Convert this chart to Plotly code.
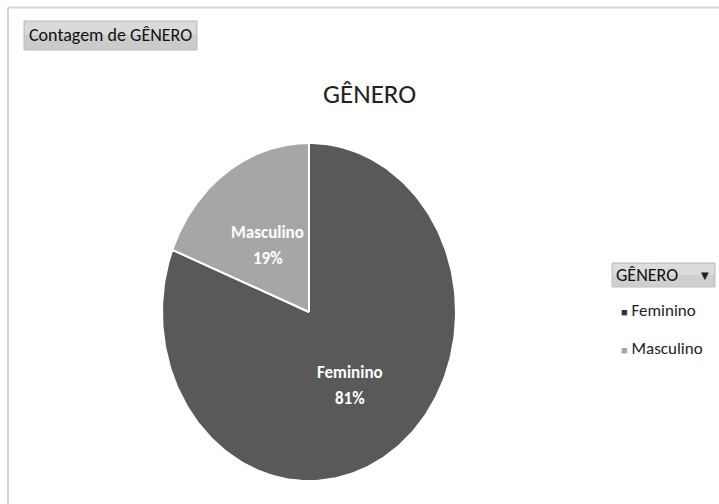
import numpy as np
import plotly.graph_objects as go

# Data
categories = ["Feminino", "Masculino"]
values = [81, 19]
colors = ["#595959", "#a6a6a6"]
legend_marker_colors = ["#333333", "#a6a6a6"]
title_text = "GÊNERO"
field_button = "Contagem de GÊNERO"
legend_title = "GÊNERO"

W, H = 719, 504
FONT = "Carlito, 'Liberation Sans Narrow', 'Open Sans', sans-serif"


def px(x):
    return x / W


def py(y):
    return 1 - y / H


def paper_text(x, y, text, size, color="#111111", xanchor="center",
               family=FONT):
    return dict(x=px(x), y=py(y), xref="paper", yref="paper",
                xanchor=xanchor, yanchor="middle", text=text,
                showarrow=False, font=dict(family=family, size=size,
                                           color=color))


total = float(sum(values))
fig = go.Figure()

# Pie slices drawn as filled wedges on a unit circle; the axis domains
# stretch the circle into the ellipse of the chart area.
start = 0.0
ann = []
for cat, val, col in zip(categories, values, colors):
    frac = val / total
    theta = np.linspace(start, start + frac, 240) * 2 * np.pi
    xs = np.concatenate([[0], np.sin(theta), [0]])
    ys = np.concatenate([[0], np.cos(theta), [0]])
    fig.add_trace(go.Scatter(
        x=xs, y=ys, mode="lines", fill="toself", fillcolor=col,
        line=dict(color="white", width=2), name=cat, showlegend=False,
        hoverinfo="skip"))
    mid = (start + frac / 2) * 2 * np.pi
    r = 0.5
    lx, ly = r * np.sin(mid), r * np.cos(mid) - 0.02
    for txt, shift in ((f"<b>{cat}</b>", 13), (f"<b>{round(frac * 100)}%</b>", -13)):
        ann.append(dict(
            x=lx, y=ly, xref="x", yref="y", xanchor="center",
            yanchor="middle", yshift=shift, text=txt, showarrow=False,
            font=dict(family=FONT, size=17, color="white")))
    start += frac

shapes = []

# Chart frame (top and left edges)
shapes.append(dict(type="line", xref="paper", yref="paper",
                   x0=px(8), x1=px(719), y0=py(7.5), y1=py(7.5),
                   line=dict(color="#d4d4d4", width=2)))
shapes.append(dict(type="line", xref="paper", yref="paper",
                   x0=px(8), x1=px(8), y0=py(7.5), y1=py(504),
                   line=dict(color="#d4d4d4", width=2)))

# Field button
shapes.append(dict(type="rect", xref="paper", yref="paper",
                   x0=px(24), x1=px(197), y0=py(50), y1=py(21),
                   fillcolor="#cbcbcb", line=dict(color="#bdbdbd", width=1),
                   layer="below"))
shapes.append(dict(type="rect", xref="paper", yref="paper",
                   x0=px(25), x1=px(196), y0=py(35), y1=py(22),
                   fillcolor="#dadada", line=dict(width=0), layer="below"))
ann.append(paper_text(110.5, 35.5, field_button, 18))

# Chart title
ann.append(paper_text(369, 93, title_text, 27, color="#222222"))

# Legend header
shapes.append(dict(type="rect", xref="paper", yref="paper",
                   x0=px(612), x1=px(715), y0=py(287), y1=py(263),
                   fillcolor="#cfcfcf", line=dict(color="#c0c0c0", width=1),
                   layer="below"))
shapes.append(dict(type="rect", xref="paper", yref="paper",
                   x0=px(613), x1=px(714), y0=py(275), y1=py(264),
                   fillcolor="#dcdcdc", line=dict(width=0), layer="below"))
ann.append(paper_text(614, 275, legend_title, 18, xanchor="left"))
ann.append(paper_text(705, 275, "▼", 10, color="#222222",
                      family="DejaVu Sans"))

# Legend items
for i, (cat, col) in enumerate(zip(categories, legend_marker_colors)):
    yy = 310 + i * 38
    ann.append(paper_text(
        619, yy,
        f"<span style='color:{col};font-size:11px'>■</span> {cat}",
        17, color="#222222", xanchor="left"))

fig.update_layout(
    width=W, height=H, margin=dict(l=0, r=0, t=0, b=0),
    paper_bgcolor="white", plot_bgcolor="white",
    xaxis=dict(range=[-1, 1], domain=[px(162), px(456)],
               visible=False, fixedrange=True),
    yaxis=dict(range=[-1, 1], domain=[py(481), py(143)],
               visible=False, fixedrange=True),
    shapes=shapes, annotations=ann, showlegend=False,
)

fig.write_html("out.html")
